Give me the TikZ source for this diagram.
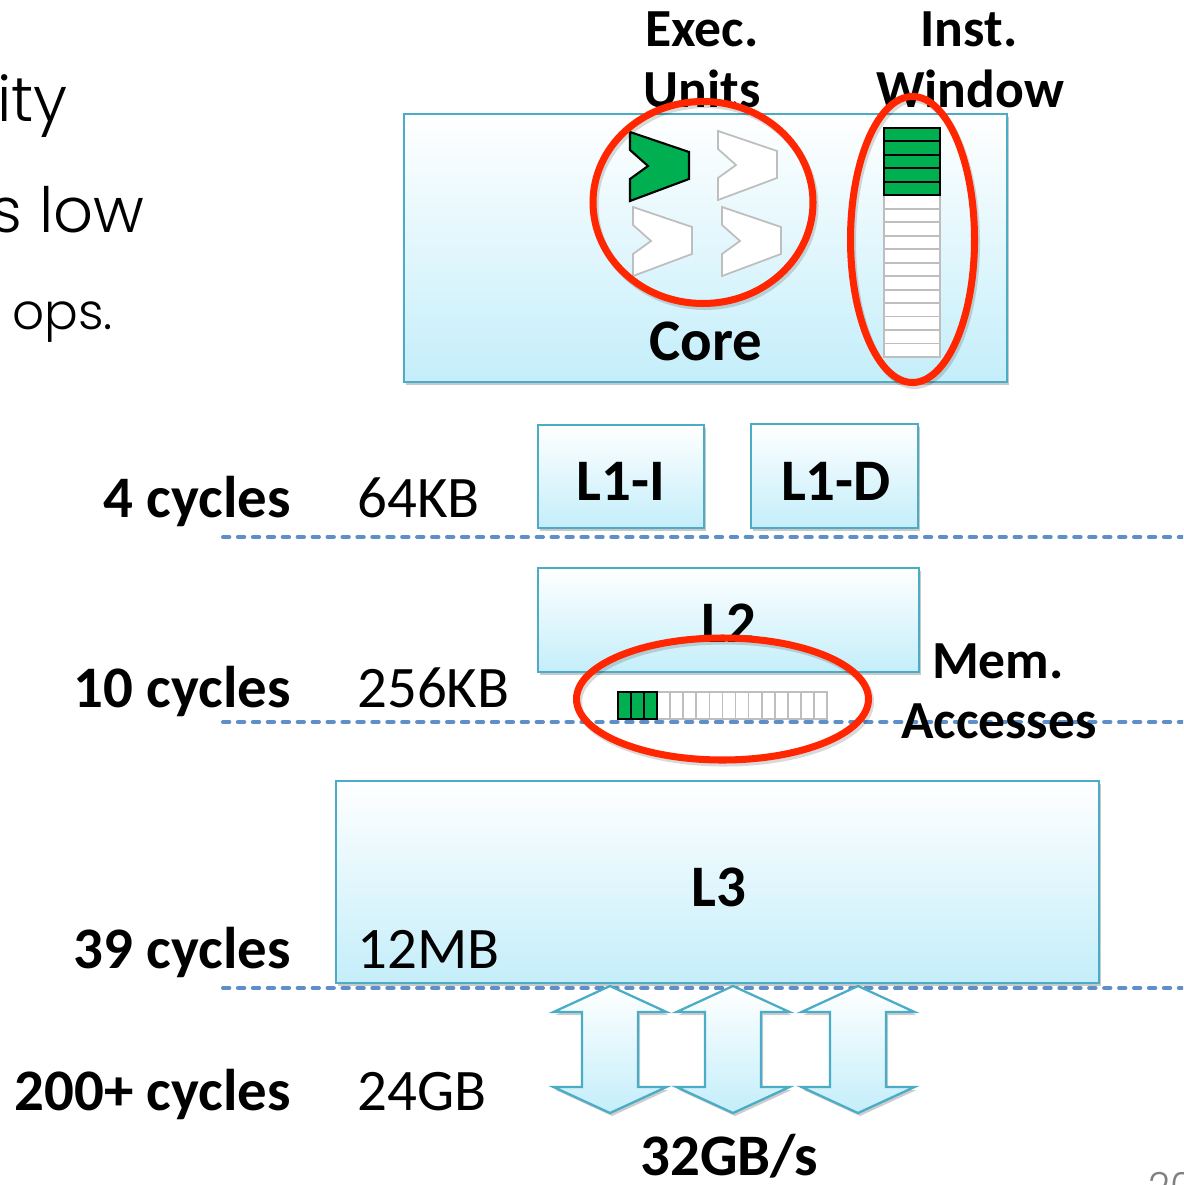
\documentclass[tikz,border=0pt]{standalone}
\usepackage{fontspec}
\setmainfont{Carlito}
\IfFontExistsTF{Poppins Light}
  {\newfontfamily\slidefont{Poppins Light}}
  {\newfontfamily\slidefont{Poppins}}
\usetikzlibrary{shadows}

\definecolor{cacheedge}{RGB}{75,172,198}
\definecolor{cachefill}{RGB}{196,238,250}
\definecolor{levelline}{RGB}{94,143,200}
\definecolor{marker}{RGB}{255,38,0}
\definecolor{busy}{RGB}{0,176,80}
\definecolor{idle}{RGB}{190,190,190}
\newcommand\px{0.02cm}
% outline of a two-headed bandwidth arrow centred on x = #1
\newcommand\busoutline[1]{%
  (#1,986) -- (#1+56.5,1012) -- (#1+28,1012) -- (#1+28,1087) -- (#1+56.5,1087)
  -- (#1,1113) -- (#1-56.5,1087) -- (#1-28,1087) -- (#1-28,1012) -- (#1-56.5,1012) -- cycle}

\begin{document}
\begin{tikzpicture}[x=0.02cm,y=-0.02cm,
  cache/.style={draw=cacheedge, line width=1.3pt, top color=white, bottom color=cachefill,
    inner sep=0pt, drop shadow={shadow xshift=1.2pt, shadow yshift=-1.8pt, opacity=0.3, fill=black!70}},
  lbl/.style={font=\fontsize{33.5}{36}\selectfont\bfseries, inner sep=0pt},
  toplbl/.style={font=\fontsize{30.5}{34}\selectfont\bfseries, inner sep=0pt},
  plain/.style={font=\fontsize{33.5}{36}\selectfont, inner sep=0pt},
  slide/.style={font=\slidefont\fontsize{35.5}{40}\selectfont, inner sep=0pt},
  subslide/.style={font=\slidefont\fontsize{28.5}{32}\selectfont, inner sep=0pt},
  level/.style={draw=levelline, line width=2.3pt, line cap=round, dash pattern=on 3.6pt off 4.9pt},
  ring/.style={draw=marker, line width=4pt},
  ringshadow/.style={draw=black, opacity=0.15, line width=4pt},
  busycell/.style={draw=black, fill=busy, line width=1.1pt},
  idlecell/.style={draw=idle, fill=white, line width=1pt},
  unit/.pic={\path[pic actions] (0,0) -- (59,20) -- (59,47) -- (0,69) -- (0,47) -- (18,34) -- (0,18) -- cycle;},
  busshadow/.style={fill=black, opacity=0.2},
  bus/.style={draw=cacheedge, line width=1.3pt, top color=white, bottom color=cachefill}
]
\useasboundingbox (0,0) rectangle (1183,1185);
\clip (0,0) rectangle (1183,1185);

% slide text running in from the left
\node[slide, anchor=base west] (t1) at (-3,122) {ity};
\node[slide, anchor=base west] (t2) at (-10,233) {s low};
\node[subslide, anchor=base west] (t3) at (12,330) {ops.};
\node[slide, anchor=north west, text=black!50, font=\slidefont\fontsize{22}{24}\selectfont] (pg) at (1148,1172) {20};

% latency level separators
\coordinate (d1a) at (223,537); \coordinate (d1b) at (1190,537);
\coordinate (d2a) at (223,722); \coordinate (d2b) at (1190,722);
\coordinate (d3a) at (223,988); \coordinate (d3b) at (1190,988);
\draw[level] (d1a) -- (d1b);
\draw[level] (d2a) -- (d2b);
\draw[level] (d3a) -- (d3b);

% core and caches
\node[cache, minimum width=603*\px, minimum height=268*\px] (core) at (705.5,248) {};
\node[cache, minimum width=166*\px, minimum height=103*\px] (l1i) at (621,476.5) {};
\node[cache, minimum width=167*\px, minimum height=104*\px] (l1d) at (834.5,476) {};
\node[cache, minimum width=381*\px, minimum height=104*\px] (l2) at (728.5,620) {};
\node[cache, minimum width=763*\px, minimum height=202*\px] (l3) at (717.5,882) {};

% execution units
\pic[draw=black, fill=busy, line width=1.2pt] at (630,132) {unit};
\pic[draw=idle, fill=white, line width=1pt] at (718,131) {unit};
\pic[draw=idle, fill=white, line width=1pt] at (633,207) {unit};
\pic[draw=idle, fill=white, line width=1pt] at (722,207) {unit};

% instruction window
\foreach \i in {5,...,16} {
  \draw[idlecell] (884,128+13.47*\i) rectangle (940,128+13.47*\i+13.47);
}
\foreach \i in {0,...,4} {
  \draw[busycell] (884,128+13.47*\i) rectangle (940,128+13.47*\i+13.47);
}

% outstanding memory accesses
\foreach \i in {3,...,15} {
  \draw[idlecell] (618+13.06*\i,692) rectangle (618+13.06*\i+13.06,719);
}
\foreach \i in {0,...,2} {
  \draw[busycell] (618+13.06*\i,692) rectangle (618+13.06*\i+13.06,719);
}

% labels
\node[toplbl, anchor=base] (exec1) at (702,47) {Exec.};
\node[toplbl, anchor=base] (exec2) at (702,108) {Units};
\node[toplbl, anchor=base] (inst1) at (969,47) {Inst.};
\node[toplbl, anchor=base] (inst2) at (970,108) {Window};
\node[lbl, anchor=base] (corel) at (706,360) {Core};
\node[lbl, anchor=base] (l1il) at (621,500) {L1-I};
\node[lbl, anchor=base] (l1dl) at (836,500) {L1-D};
\node[lbl, anchor=base] (l2l) at (729,642) {L2};
\node[lbl, anchor=base] (l3l) at (719,906) {L3};
\node[toplbl, anchor=base] (mem1) at (998,678) {Mem.};
\node[toplbl, anchor=base] (mem2) at (999,738) {Accesses};

\node[lbl, anchor=base east] (c1) at (291,517) {4 cycles};
\node[lbl, anchor=base east] (c2) at (291,707) {10 cycles};
\node[lbl, anchor=base east] (c3) at (291,968) {39 cycles};
\node[lbl, anchor=base east] (c4) at (291,1110) {200+ cycles};
\node[plain, anchor=base west] (s1) at (357,517) {64KB};
\node[plain, anchor=base west] (s2) at (357,707) {256KB};
\node[plain, anchor=base west] (s3) at (357,968) {12MB};
\node[plain, anchor=base west] (s4) at (357,1110) {24GB};

% highlight rings
\draw[ringshadow] (705,205.5) ellipse [x radius=110, y radius=101];
\draw[ring] (703,202.5) ellipse [x radius=110, y radius=101];
\draw[ringshadow] (914.5,242.5) ellipse [x radius=62, y radius=143];
\draw[ring] (912.5,239.5) ellipse [x radius=62, y radius=143];
\draw[ringshadow] (724.5,702) ellipse [x radius=146, y radius=61];
\draw[ring] (722.5,699) ellipse [x radius=146, y radius=61];

% memory bandwidth
\foreach \c in {610,733,858} {
  \begin{scope}[shift={(2,3)}]
    \path[busshadow] \busoutline{\c};
  \end{scope}
  \path[bus] \busoutline{\c};
}
\node[lbl, anchor=base] (bw) at (729,1175) {32GB/s};
\end{tikzpicture}
\end{document}
